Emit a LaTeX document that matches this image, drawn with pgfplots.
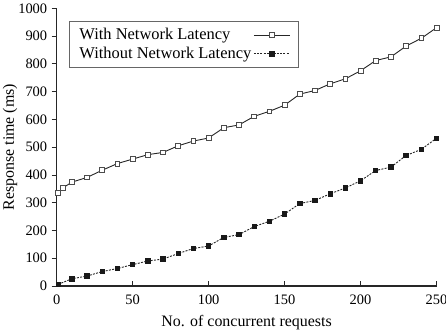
\documentclass[border=0pt]{standalone}
\usepackage{fontspec}
\setmainfont{Liberation Serif}
\usepackage{pgfplots}
\pgfplotsset{compat=1.18}
\begin{document}
\begin{tikzpicture}
\path[use as bounding box] (-56.7bp,-46bp) rectangle (389.3bp,286bp);
\clip (-56.7bp,-46bp) rectangle (389.3bp,286bp);
\begin{axis}[
  scale only axis,
  width=379.8bp, height=277.7bp,
  xmin=0, xmax=250, ymin=0, ymax=1000,
  axis lines*=left,
  axis line style={line width=1.1bp, black!85},
  xtick={0,50,...,250}, ytick={0,100,...,1000},
  xtick align=inside, ytick align=outside,
  major tick length=5bp,
  tick style={line width=0.8bp, black!85},
  /pgf/number format/assume math mode=true,
  /pgf/number format/1000 sep={},
  ticklabel style={font=\fontsize{14.5}{16}\selectfont},
  xticklabel style={yshift=-5bp},
  yticklabel style={xshift=-1bp},
  xlabel={No. of concurrent requests},
  ylabel={Response time (ms)},
  label style={font=\fontsize{16}{18}\selectfont},
  xlabel style={at={(axis description cs:0.5,0)}, anchor=north, inner sep=0pt, yshift=-29.5bp},
  ylabel style={at={(axis description cs:0,0.5)}, anchor=south, yshift=36bp},
  clip=false,
  legend plot pos=right,
  legend cell align=left,
  legend image code/.code={\draw[mark repeat=2,mark phase=2,#1] plot coordinates {(0bp,0bp)(18bp,0bp)(36bp,0bp)};},
  legend style={at={(axis description cs:0.0324,0.954)}, anchor=north west,
    draw=black!60, line width=0.9bp, font=\fontsize{16.5}{18}\selectfont,
    inner xsep=8bp, inner ysep=5bp, row sep=2bp,
    nodes={inner sep=2bp}},
]
\addplot[line width=0.9bp, black!85, mark=square*, mark size=2.4bp,
  mark options={solid, fill=white, draw=black!70, line width=0.8bp}]
  coordinates {(1,336)(4,353)(10,374)(20,391)(30,417)(40,441)(50,457)(60,473)(70,481)(80,505)(90,522)(100,533)(110,570)(120,580)(130,611)(140,629)(150,651)(160,691)(170,704)(180,728)(190,746)(200,775)(210,812)(220,825)(230,864)(240,892)(250,930)};
\addlegendentry{With Network Latency}
\addplot[line width=0.9bp, black!85, dash pattern=on 2bp off 1.3bp, mark=square*, mark size=2.2bp,
  mark options={solid, fill=black!90, draw=black!90}]
  coordinates {(1,6)(10,26)(20,36)(30,52)(40,63)(50,77)(60,90)(70,97)(80,117)(90,135)(100,144)(110,175)(120,185)(130,214)(140,233)(150,259)(160,297)(170,308)(180,332)(190,353)(200,379)(210,416)(220,428)(230,470)(240,492)(250,532)};
\addlegendentry{Without Network Latency}
\end{axis}
\end{tikzpicture}
\end{document}
